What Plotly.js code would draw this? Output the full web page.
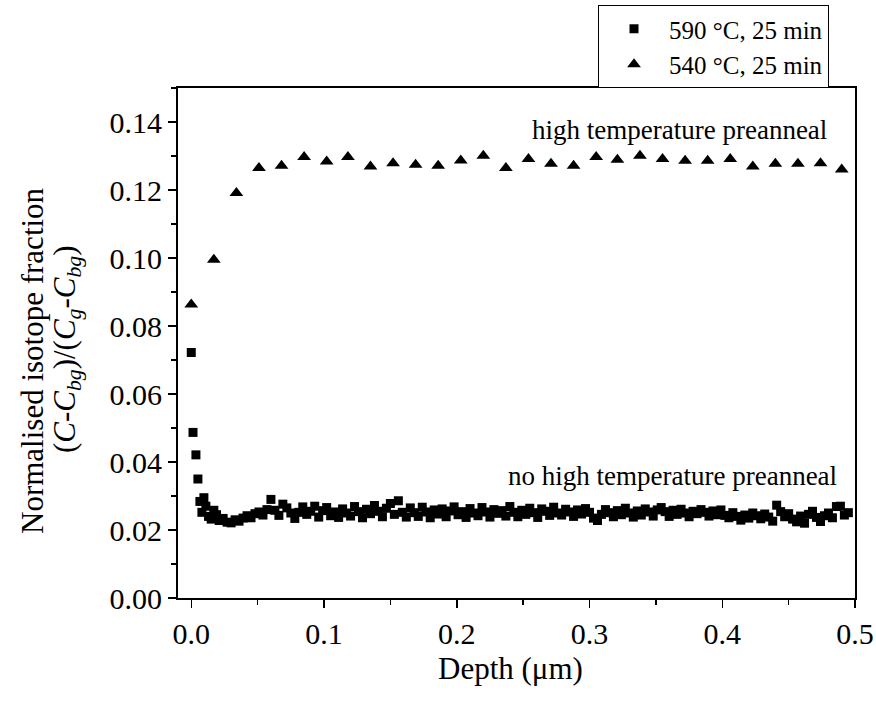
<!DOCTYPE html>
<html>
<head>
<meta charset="utf-8">
<script src="https://cdn.plot.ly/plotly-3.0.1.min.js"></script>
<style>html,body{margin:0;padding:0;background:#fff;}#chart{width:876px;height:704px;}</style>
</head>
<body>
<div id="chart"></div>
<script>
// 540 °C, 25 min (high temperature preanneal) – triangles
const depthTri = [0.000, 0.017, 0.034, 0.051, 0.068, 0.085, 0.102, 0.118, 0.135, 0.152,
  0.169, 0.186, 0.203, 0.220, 0.237, 0.254, 0.271, 0.288, 0.305, 0.321,
  0.338, 0.355, 0.372, 0.389, 0.406, 0.423, 0.440, 0.457, 0.474, 0.490];
const fracTri = [0.0863, 0.0995, 0.1191, 0.1265, 0.1271, 0.1297, 0.1284, 0.1297, 0.1269, 0.1279,
  0.1274, 0.1271, 0.1287, 0.1301, 0.1265, 0.1291, 0.1277, 0.1271, 0.1297, 0.1289,
  0.1301, 0.1291, 0.1286, 0.1286, 0.1291, 0.1269, 0.1277, 0.1277, 0.1279, 0.1260];

// 590 °C, 25 min (no high temperature preanneal) – squares
const depthSq = [0.000, 0.0013, 0.0035, 0.005, 0.0065, 0.008, 0.0095, 0.011, 0.013, 0.015, 0.017, 0.019, 0.021,
  0.024, 0.027, 0.030, 0.033, 0.036, 0.039, 0.042, 0.045, 0.048, 0.051,
  0.054, 0.057, 0.060, 0.063, 0.066, 0.069, 0.072, 0.075, 0.078, 0.081,
  0.084, 0.087, 0.090, 0.093, 0.096, 0.099, 0.102, 0.105, 0.108, 0.111,
  0.114, 0.117, 0.120, 0.123, 0.126, 0.129, 0.132, 0.135, 0.138, 0.141,
  0.144, 0.147, 0.150, 0.153, 0.156, 0.159, 0.162, 0.165, 0.168, 0.171,
  0.174, 0.177, 0.180, 0.183, 0.186, 0.189, 0.192, 0.195, 0.198, 0.201,
  0.204, 0.207, 0.210, 0.213, 0.216, 0.219, 0.222, 0.225, 0.228, 0.231,
  0.234, 0.237, 0.240, 0.243, 0.246, 0.249, 0.252, 0.255, 0.258, 0.261,
  0.264, 0.267, 0.270, 0.273, 0.276, 0.279, 0.282, 0.285, 0.288, 0.291,
  0.294, 0.297, 0.300, 0.303, 0.306, 0.309, 0.312, 0.315, 0.318, 0.321,
  0.324, 0.327, 0.330, 0.333, 0.336, 0.339, 0.342, 0.345, 0.348, 0.351,
  0.354, 0.357, 0.360, 0.363, 0.366, 0.369, 0.372, 0.375, 0.378, 0.381,
  0.384, 0.387, 0.390, 0.393, 0.396, 0.399, 0.402, 0.405, 0.408, 0.411,
  0.414, 0.417, 0.420, 0.423, 0.426, 0.429, 0.432, 0.435, 0.438, 0.441,
  0.444, 0.447, 0.450, 0.453, 0.456, 0.459, 0.462, 0.465, 0.468, 0.471,
  0.474, 0.477, 0.480, 0.483, 0.486, 0.489, 0.492, 0.495];
const fracSq = [0.0722, 0.0487, 0.0421, 0.0350, 0.0284, 0.0252, 0.0295, 0.0270, 0.0240, 0.0232, 0.0258, 0.0245, 0.0228,
  0.0234, 0.0223, 0.0221, 0.0230, 0.0226, 0.0235, 0.0242, 0.0236, 0.0248, 0.0253,
  0.0244, 0.0260, 0.0290, 0.0258, 0.0243, 0.0276, 0.0265, 0.0250, 0.0234, 0.0252,
  0.0268, 0.0246, 0.0255, 0.0270, 0.0238, 0.0257, 0.0266, 0.0242, 0.0253, 0.0237,
  0.0262, 0.0250, 0.0241, 0.0269, 0.0254, 0.0236, 0.0261, 0.0248, 0.0272, 0.0255,
  0.0239, 0.0264, 0.0278, 0.0246, 0.0286, 0.0252, 0.0238, 0.0265, 0.0251, 0.0240,
  0.0267, 0.0253, 0.0236, 0.0259, 0.0247, 0.0262, 0.0239, 0.0256, 0.0268, 0.0245,
  0.0254, 0.0237, 0.0263, 0.0250, 0.0242, 0.0266, 0.0253, 0.0238, 0.0260, 0.0249,
  0.0257, 0.0241, 0.0269, 0.0252, 0.0239, 0.0258, 0.0246, 0.0264, 0.0251, 0.0237,
  0.0262, 0.0255, 0.0243, 0.0267, 0.0250, 0.0244, 0.0261, 0.0253, 0.0240, 0.0259,
  0.0247, 0.0263, 0.0252, 0.0235, 0.0228, 0.0246, 0.0260, 0.0251, 0.0239, 0.0257,
  0.0245, 0.0264, 0.0250, 0.0238, 0.0256, 0.0244, 0.0262, 0.0253, 0.0241, 0.0259,
  0.0266, 0.0254, 0.0240, 0.0258, 0.0246, 0.0261, 0.0250, 0.0239, 0.0255, 0.0248,
  0.0260, 0.0252, 0.0241, 0.0256, 0.0245, 0.0259, 0.0243, 0.0236, 0.0251, 0.0240,
  0.0229, 0.0244, 0.0235, 0.0250, 0.0242, 0.0233, 0.0247, 0.0238, 0.0226, 0.0273,
  0.0254, 0.0239, 0.0248, 0.0232, 0.0224, 0.0241, 0.0220, 0.0246, 0.0255, 0.0237,
  0.0225, 0.0242, 0.0250, 0.0236, 0.0269, 0.0270, 0.0244, 0.0251];

const legendNames = ["590 °C, 25 min", "540 °C, 25 min"];
const annoTexts = ["high temperature preanneal", "no high temperature preanneal"];
const yTitleLines = ["Normalised isotope fraction",
  "(<i>C</i>-<i>C</i><sub><i>bg</i></sub>)/(<i>C</i><sub><i>g</i></sub>-<i>C</i><sub><i>bg</i></sub>)"];
const xTitle = "Depth (μm)";
const xTickVals = [0.0, 0.1, 0.2, 0.3, 0.4, 0.5];
const yTickVals = [0.00, 0.02, 0.04, 0.06, 0.08, 0.10, 0.12, 0.14];

const FONT = "Liberation Serif, Times New Roman, serif";

const traces = [
  {x: depthSq, y: fracSq, type: "scatter", mode: "markers", name: legendNames[0],
   marker: {symbol: "square", size: 9, color: "#000"}, cliponaxis: true},
  {x: depthTri, y: fracTri, type: "scatter", mode: "markers", name: legendNames[1],
   marker: {symbol: "triangle-up", size: 12, color: "#000"}, cliponaxis: true}
];

const axisCommon = {
  showline: true, linecolor: "#000", linewidth: 2, mirror: true,
  ticks: "outside", ticklen: 8, tickwidth: 1.5, tickcolor: "#000",
  showgrid: false, zeroline: false, automargin: false,
  tickfont: {family: FONT, size: 30, color: "#000"}
};

const layout = {
  width: 876, height: 704,
  margin: {l: 178, r: 21, t: 88, b: 106, autoexpand: false},
  paper_bgcolor: "#fff", plot_bgcolor: "#fff",
  font: {family: FONT, color: "#000"},
  xaxis: Object.assign({}, axisCommon, {
    range: [-0.01, 0.5], tickvals: xTickVals, tickformat: ".1f",
    minor: {dtick: 0.05, tick0: 0, ticks: "outside", ticklen: 5, tickwidth: 1.5, tickcolor: "#000"}
  }),
  yaxis: Object.assign({}, axisCommon, {
    range: [0, 0.15], tickvals: yTickVals, tickformat: ".2f",
    minor: {dtick: 0.01, tick0: 0, ticks: "outside", ticklen: 5, tickwidth: 1.5, tickcolor: "#000"}
  }),
  legend: {x: 0.6204, y: 1.1627, xanchor: "left", yanchor: "top",
           bgcolor: "#fff", bordercolor: "#000", borderwidth: 1, itemwidth: 60,
           font: {family: FONT, size: 25, color: "#000"}, tracegroupgap: 0},
  annotations: [
    {x: 0.368, y: 0.1377, xref: "x", yref: "y", text: annoTexts[0], showarrow: false,
     xanchor: "center", yanchor: "middle", font: {family: FONT, size: 27, color: "#000"}},
    {x: 0.3625, y: 0.0358, xref: "x", yref: "y", text: annoTexts[1], showarrow: false,
     xanchor: "center", yanchor: "middle", font: {family: FONT, size: 27, color: "#000"}},
    {x: -0.2142, y: 0.4667, xref: "paper", yref: "paper", text: yTitleLines[0], showarrow: false,
     textangle: -90, xanchor: "center", yanchor: "middle", font: {family: FONT, size: 31, color: "#000"}},
    {x: -0.164, y: 0.488, xref: "paper", yref: "paper", text: yTitleLines[1], showarrow: false,
     textangle: -90, xanchor: "center", yanchor: "middle", font: {family: FONT, size: 31, color: "#000"}},
    {x: 0.4918, y: -0.1373, xref: "paper", yref: "paper", text: xTitle, showarrow: false,
     xanchor: "center", yanchor: "middle", font: {family: FONT, size: 31, color: "#000"}}
  ],
  showlegend: true
};

Plotly.newPlot("chart", traces, layout, {displayModeBar: false, staticPlot: true});
</script>
</body>
</html>
